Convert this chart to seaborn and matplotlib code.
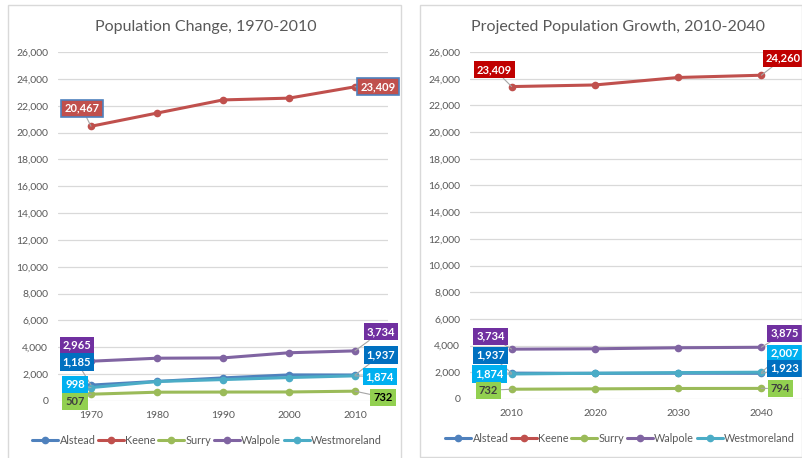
import matplotlib
matplotlib.use("Agg")
import matplotlib.pyplot as plt
from matplotlib.lines import Line2D
from matplotlib.patches import Rectangle
from matplotlib.ticker import FuncFormatter
import seaborn as sns
import pandas as pd

# data
towns = ["Alstead", "Keene", "Surry", "Walpole", "Westmoreland"]
years_hist = [1970, 1980, 1990, 2000, 2010]
years_proj = [2010, 2020, 2030, 2040]

hist_alstead = [1185, 1461, 1721, 1944, 1937]
hist_keene = [20467, 21449, 22430, 22563, 23409]
hist_surry = [507, 656, 667, 673, 732]
hist_walpole = [2965, 3188, 3210, 3594, 3734]
hist_westmoreland = [998, 1452, 1596, 1747, 1874]

proj_alstead = [1937, 1922, 1930, 1923]
proj_keene = [23409, 23530, 24090, 24260]
proj_surry = [732, 760, 788, 794]
proj_walpole = [3734, 3762, 3840, 3875]
proj_westmoreland = [1874, 1930, 1978, 2007]

line_colors = ["#4F81BD", "#C0504D", "#9BBB59", "#8064A2", "#4BACC6"]

W, H = 803, 458
fig = plt.figure(figsize=(W / 100, H / 100), dpi=100)
sns.set_style("white")
plt.rcParams["font.family"] = ["Lato", "DejaVu Sans"]


def px_axes(x0, y0, x1, y1):
    return fig.add_axes([x0 / W, 1 - y1 / H, (x1 - x0) / W, (y1 - y0) / H])


def long_df(years, series):
    rows = []
    for town, vals in zip(towns, series):
        for yr, v in zip(years, vals):
            rows.append({"year": yr, "town": town, "pop": v})
    return pd.DataFrame(rows)


# panel borders
for (x0, y0, x1, y1) in [(8, 5, 401, 470), (420, 5, 802, 457)]:
    fig.patches.append(Rectangle((x0 / W, 1 - y1 / H), (x1 - x0) / W, (y1 - y0) / H,
                                 transform=fig.transFigure, fill=False,
                                 ec="#D9D9D9", lw=1, zorder=0))

gray = "#595959"


def style_axes(ax, years, title, title_x, legend_x, legend_y):
    ax.set_ylim(0, 26000)
    ax.set_xlim(years[0] - 5, years[-1] + 5)
    ax.set_yticks(range(0, 26001, 2000))
    ax.set_xticks(years)
    ax.yaxis.set_major_formatter(FuncFormatter(lambda v, p: f"{int(v):,}"))
    ax.grid(axis="y", color="#D9D9D9", lw=0.9)
    ax.grid(axis="x", visible=False)
    ax.set_axisbelow(True)
    for s in ax.spines.values():
        s.set_visible(False)
    ax.tick_params(axis="both", length=0, labelsize=7.5, labelcolor=gray)
    ax.tick_params(axis="y", pad=7)
    ax.tick_params(axis="x", pad=7)
    ax.set_xlabel("")
    ax.set_ylabel("")
    fig.text(title_x / W, 1 - 27 / H, title, ha="center", va="center",
             fontsize=11.5, color=gray)
    handles = [Line2D([0], [0], color=c, lw=2.2, marker="o", markersize=4.5)
               for c in line_colors]
    ax.legend(handles, towns, loc="center",
              bbox_to_anchor=(legend_x / W, 1 - legend_y / H),
              bbox_transform=fig.transFigure,
              ncol=5, frameon=False, fontsize=7.8, labelcolor=gray,
              handlelength=2.4, handletextpad=0.1, columnspacing=0.25)


def label(ax, x, y, text, dx, dy, fc, tc="white", ec=None):
    ax.annotate(text, (x, y), xytext=(dx, dy), textcoords="offset pixels",
                ha="center", va="center", fontsize=8, fontweight="bold", color=tc,
                bbox=dict(boxstyle="square,pad=0.28", fc=fc,
                          ec=ec if ec else fc, lw=1.2 if ec else 0),
                arrowprops=dict(arrowstyle="-", color="#A6A6A6", lw=0.8,
                                shrinkA=0, shrinkB=0),
                zorder=5)


# left chart
ax1 = px_axes(58, 52, 388, 401)
df_hist = long_df(years_hist, [hist_alstead, hist_keene, hist_surry,
                               hist_walpole, hist_westmoreland])
sns.lineplot(data=df_hist, x="year", y="pop", hue="town", palette=line_colors,
             marker="o", markersize=5.5, markeredgewidth=0, lw=2.2, ax=ax1,
             legend=False)
style_axes(ax1, years_hist, "Population Change, 1970-2010", 206, 207, 440)

label(ax1, years_hist[0], hist_keene[0], f"{hist_keene[0]:,}", -9, 18, "#C0504D", ec="#4F81BD")
label(ax1, years_hist[-1], hist_keene[-1], f"{hist_keene[-1]:,}", 23, 0, "#C0504D", ec="#4F81BD")
label(ax1, years_hist[0], hist_walpole[0], f"{hist_walpole[0]:,}", -14, 16, "#7030A0")
label(ax1, years_hist[0], hist_alstead[0], f"{hist_alstead[0]:,}", -14, 23, "#0070C0")
label(ax1, years_hist[0], hist_westmoreland[0], f"{hist_westmoreland[0]:,}", -16, 3, "#00B0F0")
label(ax1, years_hist[0], hist_surry[0], f"{hist_surry[0]:,}", -16, -7, "#92D050", tc="#404040")
label(ax1, years_hist[-1], hist_walpole[-1], f"{hist_walpole[-1]:,}", 26, 19, "#7030A0")
label(ax1, years_hist[-1], hist_alstead[-1], f"{hist_alstead[-1]:,}", 26, 20, "#0070C0")
label(ax1, years_hist[-1], hist_westmoreland[-1], f"{hist_westmoreland[-1]:,}", 25, -1, "#00B0F0")
label(ax1, years_hist[-1], hist_surry[-1], f"{hist_surry[-1]:,}", 28, -6, "#92D050", tc="black")

# right chart
ax2 = px_axes(470, 52, 803, 399)
df_proj = long_df(years_proj, [proj_alstead, proj_keene, proj_surry,
                               proj_walpole, proj_westmoreland])
sns.lineplot(data=df_proj, x="year", y="pop", hue="town", palette=line_colors,
             marker="o", markersize=5.5, markeredgewidth=0, lw=2.2, ax=ax2,
             legend=False)
style_axes(ax2, years_proj, "Projected Population Growth, 2010-2040", 618, 620, 438)

label(ax2, years_proj[0], proj_keene[0], f"{proj_keene[0]:,}", -17, 17, "#C00000")
label(ax2, years_proj[-1], proj_keene[-1], f"{proj_keene[-1]:,}", 22, 17, "#C00000")
label(ax2, years_proj[0], proj_walpole[0], f"{proj_walpole[0]:,}", -21, 13, "#7030A0")
label(ax2, years_proj[0], proj_alstead[0], f"{proj_alstead[0]:,}", -21, 18, "#0070C0")
label(ax2, years_proj[0], proj_westmoreland[0], f"{proj_westmoreland[0]:,}", -22, 0, "#00B0F0")
label(ax2, years_proj[0], proj_surry[0], f"{proj_surry[0]:,}", -23, -1, "#92D050", tc="#404040")
label(ax2, years_proj[-1], proj_walpole[-1], f"{proj_walpole[-1]:,}", 23, 14, "#7030A0")
label(ax2, years_proj[-1], proj_westmoreland[-1], f"{proj_westmoreland[-1]:,}", 23, 19, "#00B0F0")
label(ax2, years_proj[-1], proj_alstead[-1], f"{proj_alstead[-1]:,}", 23, 5, "#0070C0")
label(ax2, years_proj[-1], proj_surry[-1], f"{proj_surry[-1]:,}", 19, 0, "#92D050", tc="#404040")

fig.savefig("out.png", dpi=100)
